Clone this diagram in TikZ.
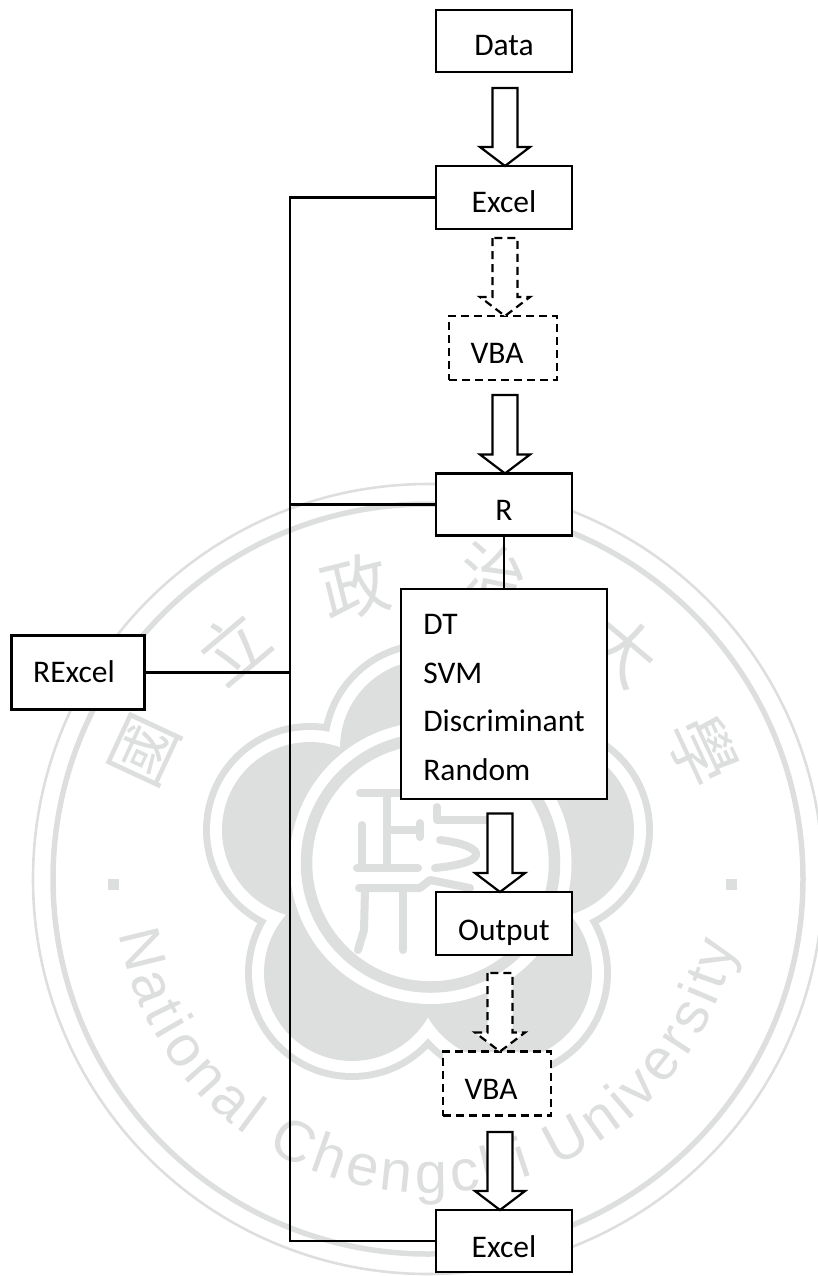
\documentclass[tikz,border=0pt]{standalone}
\usepackage{fontspec}
\setmainfont{Carlito}
\newfontfamily\wmlatin{Liberation Sans}
\newfontfamily\wmcjk{Noto Sans CJK TC}
\usetikzlibrary{calc,decorations.text}
\definecolor{wmgray}{HTML}{DDDFDE}
\tikzset{
  box/.style={draw, line width=2.2pt, fill=white, outer sep=0pt, inner sep=0pt, minimum width=136pt,
    font=\fontsize{31.5}{37}\selectfont, text height=46pt, text depth=17pt},
  dashbox/.style={box, dash pattern=on 8pt off 5pt, minimum width=108pt},
  link/.style={line width=2.2pt},
  bigarrow/.style={line width=2.2pt, fill=white, to path={
    let \p1=(\tikztostart), \p2=(\tikztotarget.north) in
    (\x1-12.5pt,\y1) -- (\x1-12.5pt,\y2+19pt) -- (\x1-25pt,\y2+19pt) -- (\x1,\y2)
    -- (\x1+25pt,\y2+19pt) -- (\x1+12.5pt,\y2+19pt) -- (\x1+12.5pt,\y1) -- cycle}},
  dashes/.style={dash pattern=on 8pt off 5pt},
  wmchar/.style={text=wmgray, inner sep=0pt, font=\wmcjk\fontsize{68}{68}\selectfont},
  wmstroke/.style={draw=wmgray, line width=8pt, line cap=round, line join=round}
}
\begin{document}
\begin{tikzpicture}[x=1pt,y=-1pt]
\useasboundingbox (0,0) rectangle (818,1276);
% seal behind the flow
\begin{scope}
\clip (0,0) rectangle (818,1276);
\coordinate (wmc) at (428,879);
\draw[wmgray, line width=2.6pt] (wmc) circle[radius=395];
\draw[wmgray, line width=5.5pt] (wmc) circle[radius=375];
\fill[wmgray] (113,884) +(-5.5,-5.5) rectangle +(5.5,5.5);
\fill[wmgray] (731,884) +(-5.5,-5.5) rectangle +(5.5,5.5);
\node[wmchar, rotate=65] (ch1) at (145,750) {國};
\node[wmchar, rotate=40] (ch2) at (233,647) {立};
\node[wmchar, rotate=14] (ch3) at (355,587) {政};
\node[wmchar, rotate=-12] (ch4) at (493,576) {治};
\node[wmchar, rotate=-40] (ch5) at (623,650) {大};
\node[wmchar, rotate=-65] (ch6) at (703,750) {學};
\path[decorate, decoration={text along path, text align={fit to path},
  text={|\wmlatin\fontsize{58}{58}\selectfont\color{wmgray}|National Chengchi University}}]
  (wmc) ++(170:314) arc[start angle=170, end angle=12, radius=314];
% flower
\fill[wmgray] (428,748) circle[radius=107] (310,830) circle[radius=107] (546,830) circle[radius=107]
  (352,973) circle[radius=107] (504,973) circle[radius=107] (428,870) circle[radius=120];
\fill[white] (428,748) circle[radius=100] (310,830) circle[radius=100] (546,830) circle[radius=100]
  (352,973) circle[radius=100] (504,973) circle[radius=100] (428,870) circle[radius=120];
\fill[wmgray] (428,748) circle[radius=88] (310,830) circle[radius=88] (546,830) circle[radius=88]
  (352,973) circle[radius=88] (504,973) circle[radius=88] (428,870) circle[radius=120];
\fill[white] (430.5,863) circle[radius=141];
\draw[wmgray, line width=11.5pt] (430.5,863) circle[radius=124];
% centre glyph
\draw[wmstroke] (360,793) -- (403,793);
\draw[wmstroke] (387,793) -- (387,868);
\draw[wmstroke] (387,830) -- (420,830);
\draw[wmstroke] (420,823) -- (420,837);
\draw[wmstroke] (362,825) -- (362,868);
\draw[wmstroke] (357,868) -- (418,868);
\draw[wmstroke] (437,807) -- (437,820) -- (487,820);
\draw[wmstroke] (440,840) .. controls (483,845) and (495,862) .. (435,868);
\draw[wmstroke] (359,888) -- (420,888) -- (430,880) -- (470,888);
\draw[wmstroke] (365,890) -- (364,930) -- (358,950);
\draw[wmstroke] (403,890) -- (403,950);
\end{scope}
% flow boxes
\node[box, minimum height=62pt, text height=46pt, text depth=16pt] (data) at (504,41) {Data};
\node[box, minimum height=63pt, text height=46pt, text depth=17pt] (excel1) at (504,197.5) {Excel};
\node[dashbox, minimum height=64pt, text height=47pt, text depth=17pt] (vba1) at (503,348) {\hspace*{-12pt}VBA};
\node[box, minimum height=62pt, text height=47pt, text depth=15pt] (r) at (504,504.5) {R};
\node[box, minimum width=206pt, minimum height=210pt, align=left, text height=, text depth=,
  font=\fontsize{31.5}{48.4}\selectfont] (algo) at (504,694)
  {\rule{0pt}{46pt}DT\\SVM\\Discriminant\\Random\rule[-19pt]{0pt}{19pt}};
\node[box, minimum height=63pt, text height=48pt, text depth=15pt] (output) at (504,923.5) {Output};
\node[dashbox, minimum height=64pt, text height=48pt, text depth=16pt] (vba2) at (497,1083.5) {\hspace*{-12pt}VBA};
\node[box, minimum height=62pt, text height=47pt, text depth=15pt] (excel2) at (504,1241) {Excel};
\node[box, minimum width=133pt, minimum height=74pt, text height=47pt, text depth=27pt] (rexcel) at (78,672.5) {\hspace*{-8pt}RExcel};
% trunk on the left
\coordinate (busTop) at (290,197.5);
\coordinate (busBot) at (290,1241);
\draw[link] (excel1.west) -- (busTop) -- (busBot) -- (excel2.west);
\draw[link] (r.west) -- (busTop |- r.west);
\draw[link] (rexcel.east) -- (busTop |- rexcel.east);
\draw[link] (r.south) -- (algo.north);
% block arrows
\coordinate (a1) at (505,88);
\coordinate (a2) at (505,238);
\coordinate (a3) at (505,395);
\coordinate (a4) at (500,813.5);
\coordinate (a5) at (500,973);
\coordinate (a6) at (500,1132);
\draw[bigarrow] (a1) to (excel1);
\draw[bigarrow, dashes] (a2) to (vba1);
\draw[bigarrow] (a3) to (r);
\draw[bigarrow] (a4) to (output);
\draw[bigarrow, dashes] (a5) to (vba2);
\draw[bigarrow] (a6) to (excel2);
\end{tikzpicture}
\end{document}
